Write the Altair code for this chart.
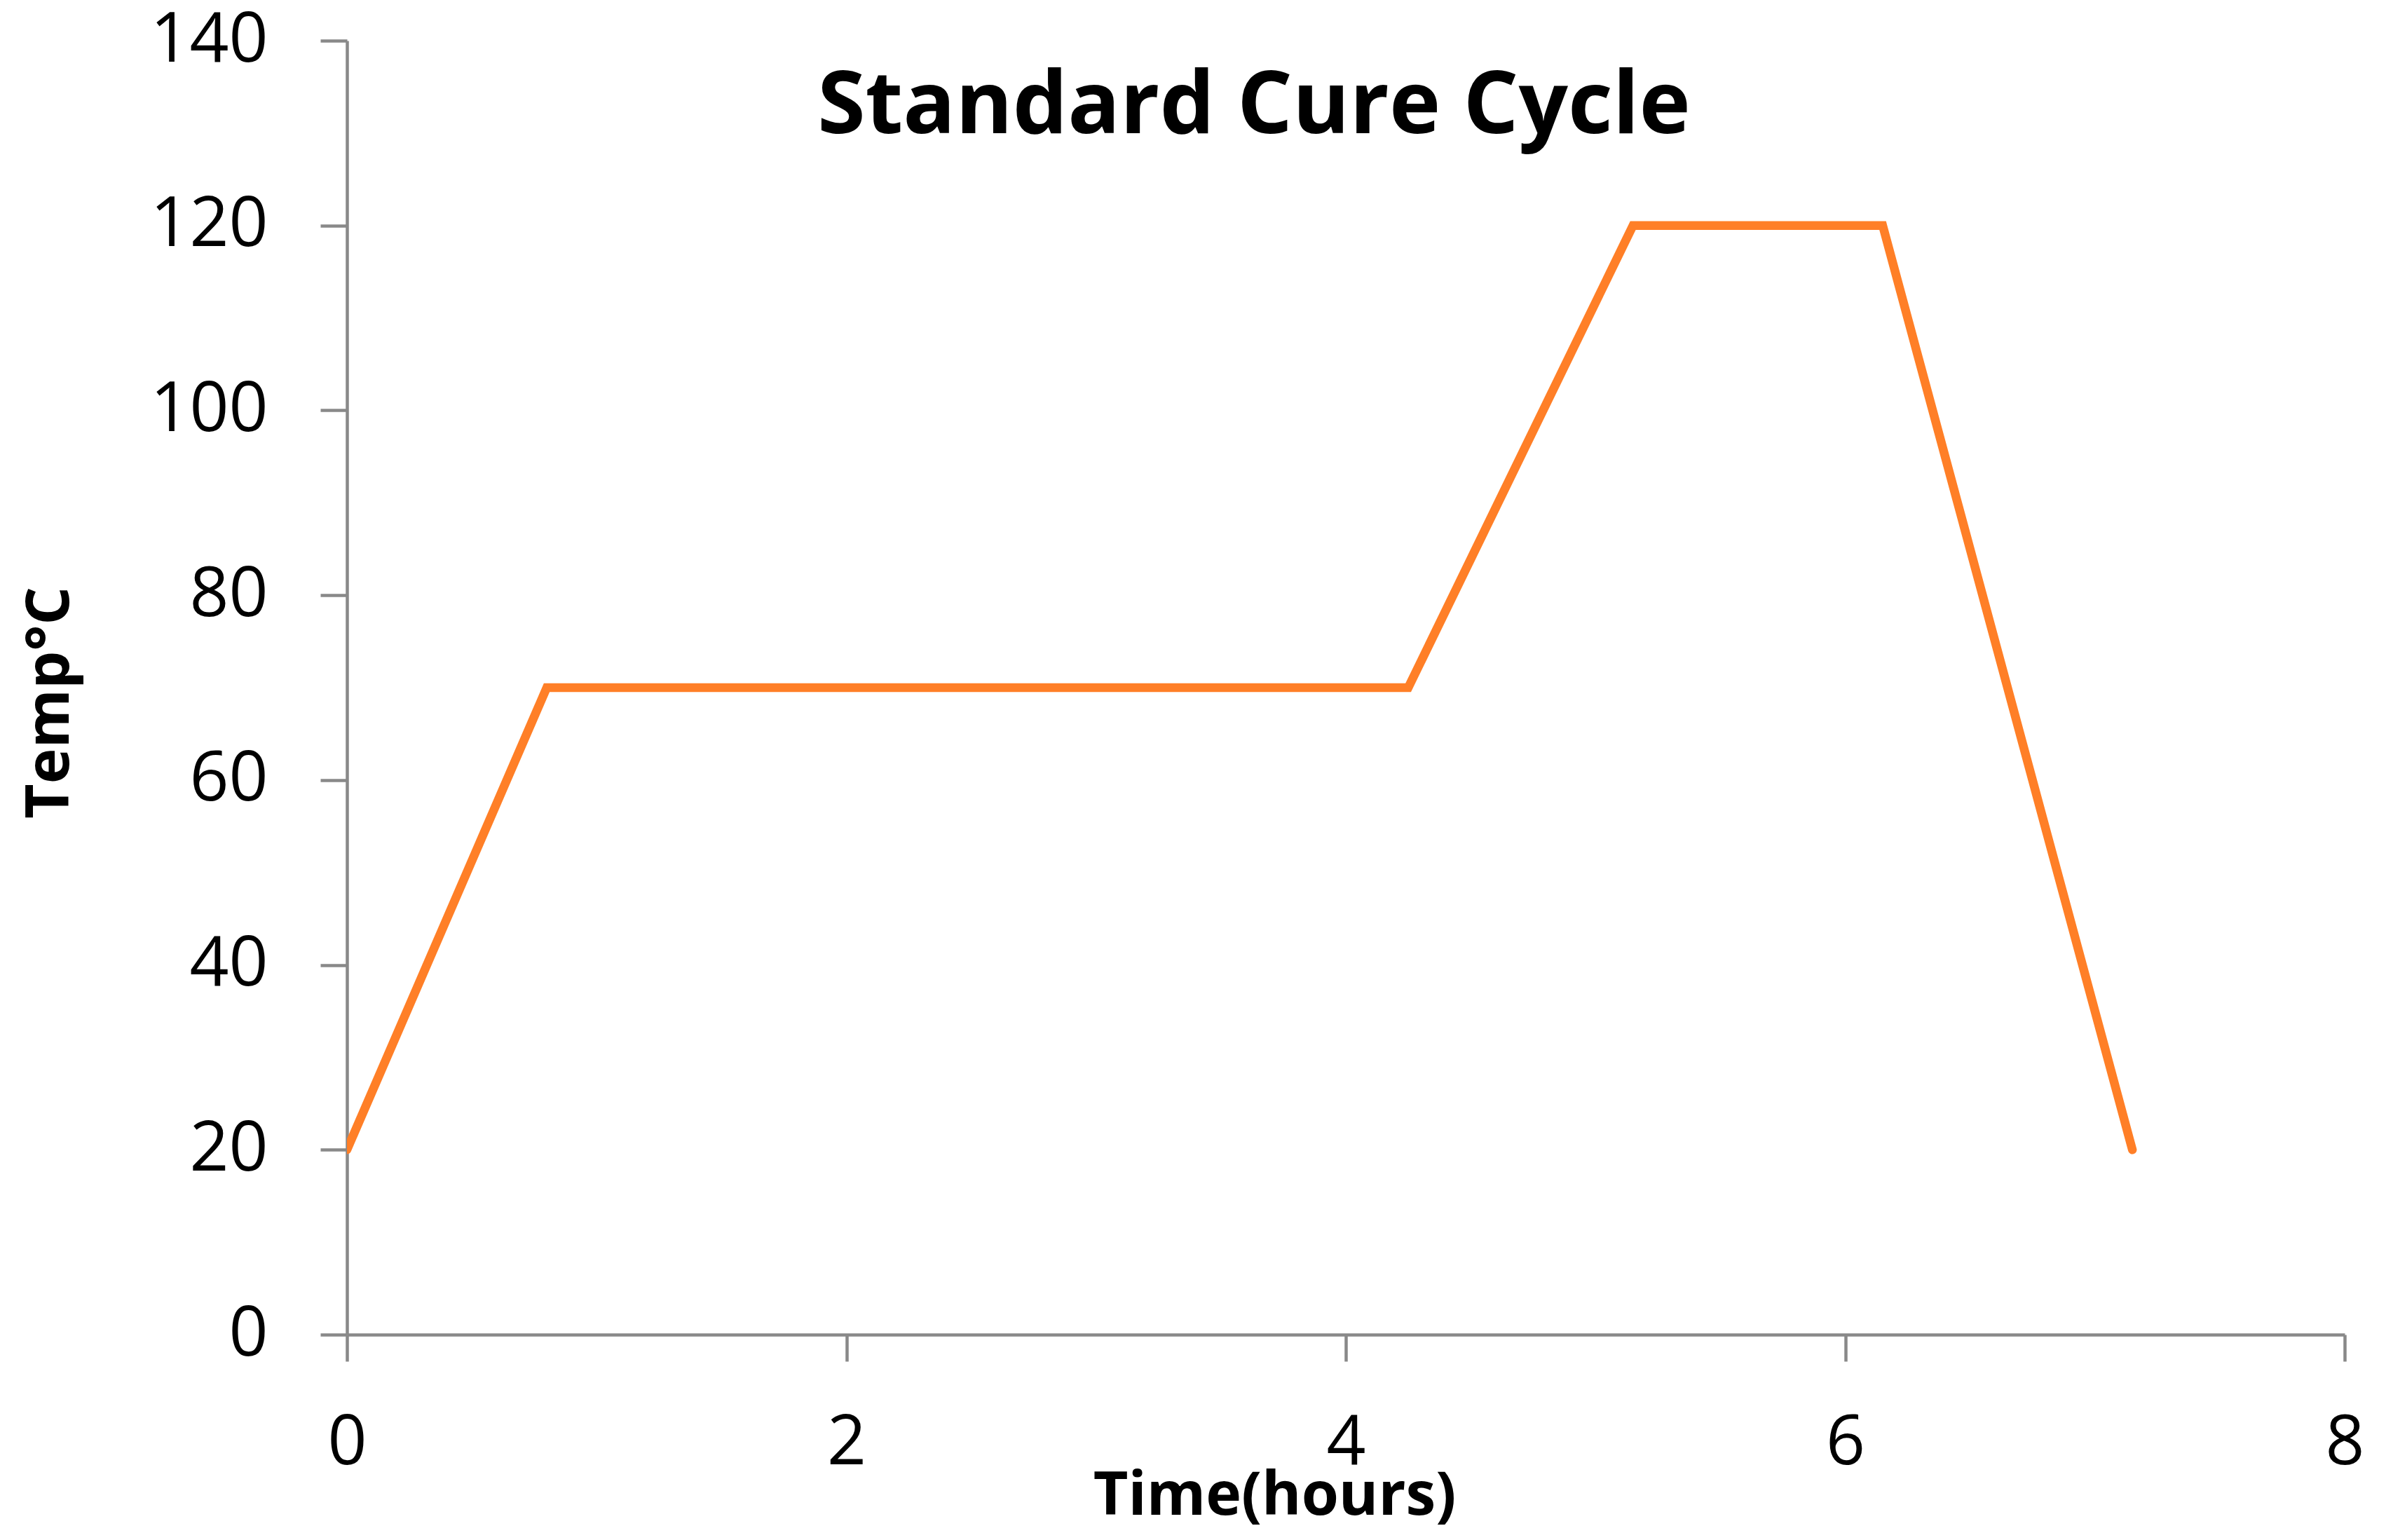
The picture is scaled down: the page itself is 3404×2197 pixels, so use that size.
import altair as alt
import pandas as pd

# Data
time_hours = [0, 0.8, 4.25, 5.15, 6.15, 7.15]
temp_c = [20, 70, 70, 120, 120, 20]
x_ticks = [0, 2, 4, 6, 8]
y_ticks = [0, 20, 40, 60, 80, 100, 120, 140]

df = pd.DataFrame({"time": time_hours, "temp": temp_c})

FONT = "Open Sans"
AXIS_COLOR = "#898989"
LINE_COLOR = "#FF7F27"

x_axis = alt.Axis(
    values=x_ticks, title="Time(hours)", grid=False,
    domainColor=AXIS_COLOR, domainWidth=4.5,
    tickColor=AXIS_COLOR, tickWidth=4.5, tickSize=38,
    labelFont=FONT, labelFontSize=98, labelColor="black", labelPadding=69,
    labelFlush=False, labelOverlap=False,
    titleFont=FONT, titleFontSize=86, titleFontWeight="bold", titleColor="black",
    titleX=1323, titleY=256, titleAlign="center", titleBaseline="alphabetic",
)

y_axis = alt.Axis(
    values=y_ticks, title="Temp°C", grid=False,
    domainColor=AXIS_COLOR, domainWidth=4.5,
    tickColor=AXIS_COLOR, tickWidth=4.5, tickSize=38,
    labelFont=FONT, labelFontSize=98, labelColor="black", labelPadding=75,
    labelFlush=False, labelOverlap=False,
    titleFont=FONT, titleFontSize=86, titleFontWeight="bold", titleColor="black",
    titleX=-398, titleY=944, titleAngle=270, titleAlign="center", titleBaseline="alphabetic",
)

chart = alt.Chart(df).mark_line(
    color=LINE_COLOR, strokeWidth=12.5, strokeCap="round", strokeJoin="miter", clip=True
).encode(
    x=alt.X("time:Q", scale=alt.Scale(domain=[0, 8], nice=False, zero=False), axis=x_axis),
    y=alt.Y("temp:Q", scale=alt.Scale(domain=[0, 140], nice=False), axis=y_axis),
).properties(
    width=2850,
    height=1846,
    padding={"left": 487, "top": 50, "right": 51, "bottom": 285},
    autosize=alt.AutoSizeParams(type="none"),
    background="white",
    title=alt.TitleParams(
        "Standard Cure Cycle", font=FONT, fontSize=124, fontWeight="bold", color="black",
        anchor="middle", dx=-131, dy=305, baseline="alphabetic", offset=0,
    ),
).configure_view(stroke=None)

chart.save("out.html", embed_options={"renderer": "svg", "actions": False})
